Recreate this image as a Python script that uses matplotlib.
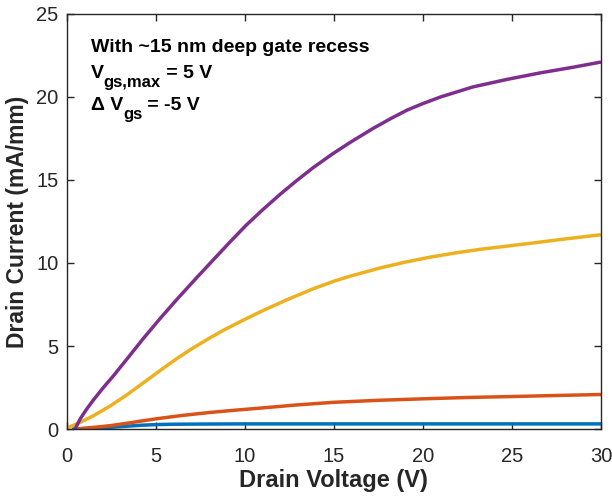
import matplotlib
matplotlib.use("Agg")
import matplotlib.pyplot as plt
from matplotlib.transforms import offset_copy

plt.rcParams['font.family'] = ['Liberation Sans', 'DejaVu Sans']

# Data
vd_purple = [0.47, 0.75, 1.12, 1.5, 2.06, 2.62, 3.37, 4.3, 5.24, 6.18, 7.2, 8.24, 9.2, 10.1, 11.0, 12.0,
             12.9, 13.85, 14.9, 15.9, 17.2, 18.2, 19.1, 20.0, 21.0, 22.8, 24.7, 26.6, 28.5, 30.0]
id_purple = [0.0, 0.6, 1.2, 1.75, 2.5, 3.2, 4.2, 5.45, 6.65, 7.8, 9.0, 10.2, 11.3, 12.3, 13.2, 14.15,
             14.95, 15.75, 16.55, 17.25, 18.1, 18.7, 19.2, 19.6, 20.0, 20.6, 21.05, 21.45, 21.8, 22.1]

vd_yellow = [0.0, 0.75, 1.5, 2.43, 3.37, 4.3, 5.24, 6.1, 6.9, 7.9, 8.8, 9.9, 11.05, 12.4, 13.85, 15.0,
             15.9, 17.6, 19.0, 20.4, 21.8, 23.2, 24.6, 26.0, 28.0, 30.0]
id_yellow = [0.05, 0.4, 0.8, 1.38, 2.05, 2.78, 3.52, 4.18, 4.75, 5.4, 5.95, 6.55, 7.15, 7.8, 8.45, 8.9,
             9.2, 9.7, 10.05, 10.35, 10.6, 10.82, 11.0, 11.18, 11.45, 11.7]

vd_red = [0.56, 1.5, 2.43, 3.4, 4.3, 5.05, 6.5, 8.05, 9.4, 10.86, 12.9, 15.0, 17.5, 20.0, 22.5, 25.1, 27.5, 30.0]
id_red = [0.0, 0.1, 0.2, 0.35, 0.5, 0.62, 0.82, 1.0, 1.13, 1.26, 1.45, 1.61, 1.73, 1.82, 1.9, 1.96, 2.02, 2.08]

vd_blue = [0.3, 1.5, 2.4, 3.37, 4.2, 5.05, 6.0, 7.5, 10.0, 15.0, 20.0, 25.0, 30.0]
id_blue = [0.0, 0.05, 0.1, 0.17, 0.23, 0.27, 0.29, 0.3, 0.31, 0.31, 0.31, 0.31, 0.31]

fig = plt.figure(figsize=(6.12, 4.96), dpi=100)
ax = fig.add_axes([0.109, 0.135, 0.873, 0.837])

lw = 2.5
ax.plot(vd_blue, id_blue, color='#0072BD', lw=lw, solid_capstyle='butt')
ax.plot(vd_red, id_red, color='#D95319', lw=lw, solid_capstyle='butt')
ax.plot(vd_yellow, id_yellow, color='#EDB120', lw=lw, solid_capstyle='butt')
ax.plot(vd_purple, id_purple, color='#7E2F8E', lw=lw, solid_capstyle='butt')

ax.set_xlim(0, 30)
ax.set_ylim(0, 25)
ax.set_xticks([0, 5, 10, 15, 20, 25, 30])
ax.set_yticks([0, 5, 10, 15, 20, 25])
ax.tick_params(direction='in', top=True, right=True, labelsize=14.5, length=5, width=1,
               colors='#262626')
ax.tick_params(axis='x', pad=13)
ax.tick_params(axis='y', pad=6)
for s in ax.spines.values():
    s.set_color('#262626')
    s.set_linewidth(1.0)

ax.set_xlabel('Drain Voltage (V)', fontsize=17, fontweight='bold', color='#262626', labelpad=2)
ax.set_ylabel('Drain Current (mA/mm)', fontsize=16.5, fontweight='bold', color='#262626', labelpad=5)

fs = 14
fs_sub = 12
x0 = 0.045
ax.text(x0, 0.920, 'With ~15 nm deep gate recess', transform=ax.transAxes,
        fontsize=fs, fontweight='bold', va='center')

renderer = fig.canvas.get_renderer()


def sub_line(prefix, sub, rest, y):
    t1 = ax.text(x0, y, prefix, transform=ax.transAxes, fontsize=fs, fontweight='bold', va='center')
    bb = t1.get_window_extent(renderer)
    xs = ax.transAxes.inverted().transform((bb.x1, bb.y0))[0]
    tr = offset_copy(ax.transAxes, fig=fig, x=0, y=-7, units='points')
    t2 = ax.text(xs, y, sub, transform=tr, fontsize=fs_sub, fontweight='bold', va='center')
    bb2 = t2.get_window_extent(renderer)
    xr = ax.transAxes.inverted().transform((bb2.x1, bb2.y0))[0]
    ax.text(xr, y, rest, transform=ax.transAxes, fontsize=fs, fontweight='bold', va='center')


sub_line('V', 'gs,max', ' = 5 V', 0.857)
sub_line('Δ V', 'gs', ' = -5 V', 0.780)

fig.savefig('out.png', dpi=100)
